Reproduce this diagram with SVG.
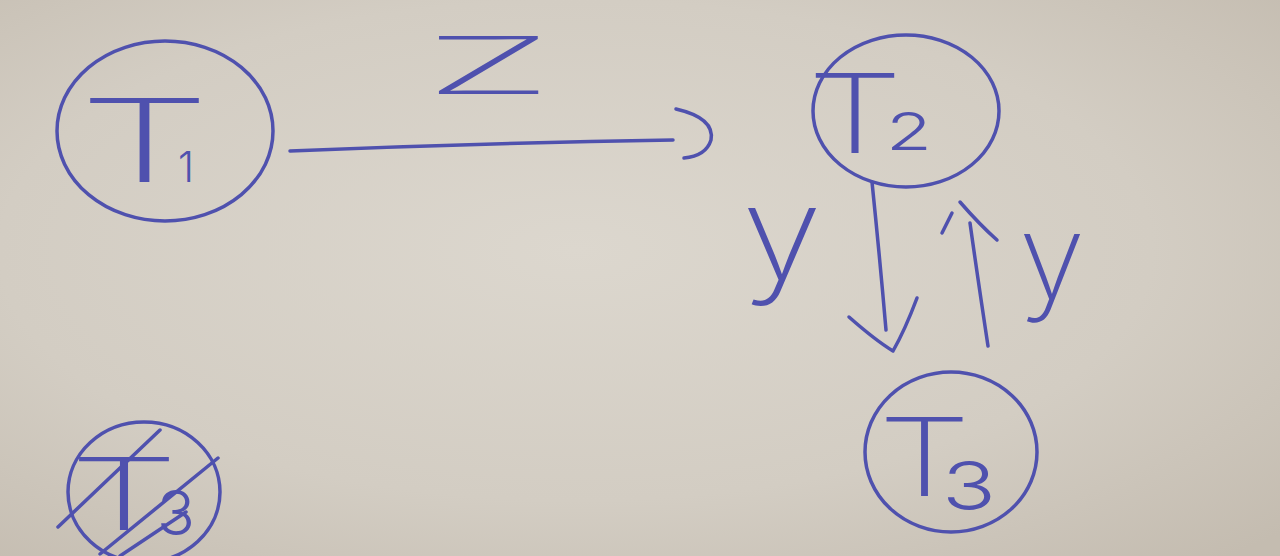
<svg xmlns="http://www.w3.org/2000/svg" width="1280" height="556" viewBox="0 0 1280 556">
<defs>
<radialGradient id="paper" cx="0.45" cy="0.45" r="0.75">
<stop offset="0" stop-color="#dcd7ce"/>
<stop offset="0.6" stop-color="#d3cdc3"/>
<stop offset="1" stop-color="#c4bcb0"/>
</radialGradient>
<style>
.ink{fill:none;stroke:#4f51ae;stroke-width:3.5;stroke-linecap:round;stroke-linejoin:round}
.lbl{fill:#4f51ae;font-family:"Inter","DejaVu Sans",sans-serif;font-weight:150}
.sub{font-weight:300}
</style>
</defs>
<rect x="0" y="0" width="1280" height="556" fill="url(#paper)"/>

<g id="node-T1">
<ellipse class="ink" cx="165" cy="131" rx="108" ry="90"/>
<text class="lbl"><tspan x="78" y="182" font-size="115" textLength="133" lengthAdjust="spacingAndGlyphs">T</tspan><tspan class="sub" x="178" y="182" font-size="42" textLength="16" lengthAdjust="spacingAndGlyphs">1</tspan></text>
</g>

<g id="node-T2">
<ellipse class="ink" cx="906" cy="111" rx="93" ry="76"/>
<text class="lbl"><tspan x="807" y="153" font-size="110" textLength="96" lengthAdjust="spacingAndGlyphs">T</tspan><tspan class="sub" x="886" y="150" font-size="52" textLength="46" lengthAdjust="spacingAndGlyphs">2</tspan></text>
</g>

<g id="node-T3">
<ellipse class="ink" cx="951" cy="452" rx="86" ry="80"/>
<text class="lbl"><tspan x="878" y="496" font-size="108" textLength="93" lengthAdjust="spacingAndGlyphs">T</tspan><tspan class="sub" x="942" y="510" font-size="67" textLength="54" lengthAdjust="spacingAndGlyphs">3</tspan></text>
</g>

<g id="node-T3-crossed">
<ellipse class="ink" cx="144" cy="492" rx="76" ry="70"/>
<text class="lbl"><tspan x="69" y="530" font-size="100" textLength="110" lengthAdjust="spacingAndGlyphs">T</tspan><tspan class="sub" x="157" y="535" font-size="62" textLength="38" lengthAdjust="spacingAndGlyphs">3</tspan></text>
<path class="ink" d="M58 527 L160 430"/>
<path class="ink" d="M100 554 L218 458"/>
<path class="ink" d="M120 556 L186 512"/>
</g>

<g id="connectors">
<path class="ink" d="M290 151 Q480 143 673 140"/>
<path class="ink" d="M676 109 Q715 118 711 140 Q706 156 684 158"/>
<text class="lbl" x="424" y="94" font-size="80" textLength="129" lengthAdjust="spacingAndGlyphs">Z</text>

<path class="ink" d="M872 182 Q880 260 886 330"/>
<path class="ink" d="M849 317 Q875 340 893 351 Q905 330 917 298"/>
<text class="lbl" x="742" y="279" font-size="130" textLength="80" lengthAdjust="spacingAndGlyphs">y</text>

<path class="ink" d="M988 346 Q978 280 970 223"/>
<path class="ink" d="M960 202 Q980 225 997 240"/>
<path class="ink" d="M942 233 L952 213"/>
<text class="lbl" x="1019" y="298" font-size="118" textLength="66" lengthAdjust="spacingAndGlyphs">y</text>
</g>
</svg>
